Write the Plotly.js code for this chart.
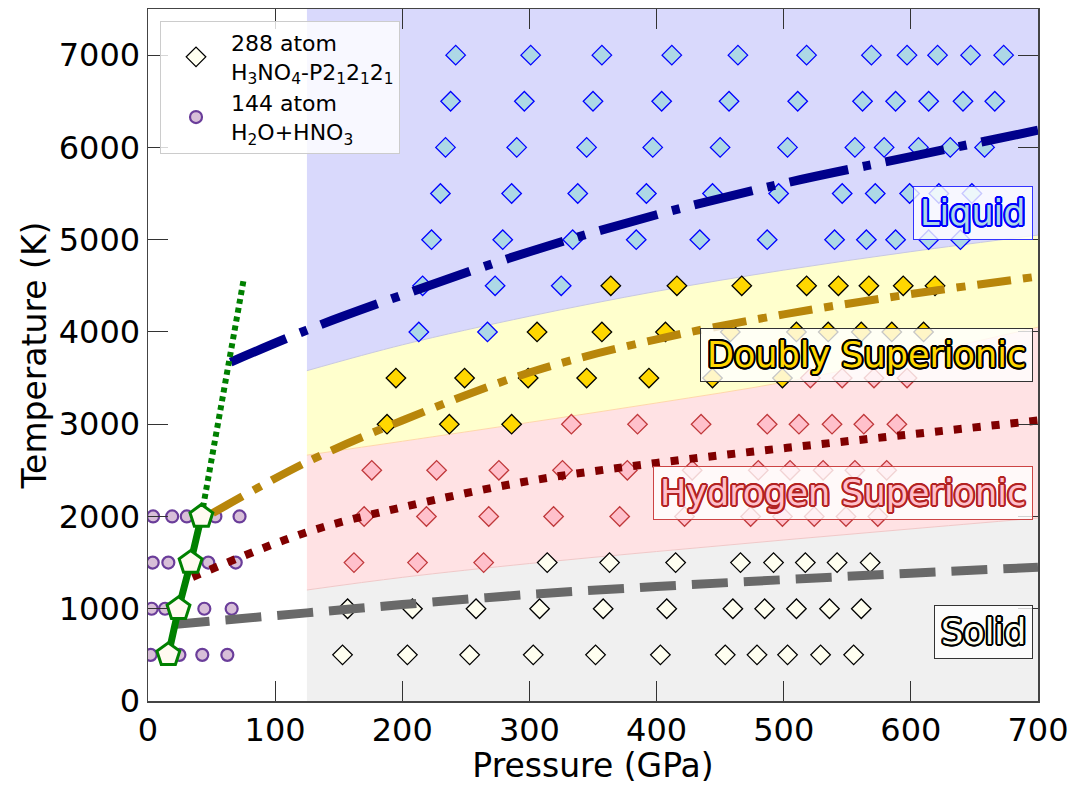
<!DOCTYPE html>
<html>
<head>
<meta charset="utf-8">
<script src="https://cdn.plot.ly/plotly-3.0.1.min.js"></script>
<style>html,body{margin:0;padding:0;background:#fff;}</style>
</head>
<body>
<div id="chart" style="width:1074px;height:785px;"></div>
<script>
// ---------- data ----------
// Phase-region boundaries (pressure GPa -> temperature K)
const boundaryP = [125, 200, 300, 400, 500, 600, 700];
const solidTop  = [1203, 1340, 1490, 1620, 1745, 1865, 1983];
const hsTop     = [2665, 2815, 3020, 3230, 3455, 3740, 4052];
const dsTop     = [3580, 3860, 4170, 4440, 4670, 4870, 5050];
const regionBase = [0, 0, 0, 0, 0, 0, 0];
const regionCeil = [7500, 7500, 7500, 7500, 7500, 7500, 7500];

// 288 atom H3NO4-P212121 simulations, by phase
const solidP = [153,204,253,303,352,403,454,479,503,529,555,
                157,208,258,308,358,408,460,485,510,536,561,
                314,363,415,466,492,517,542,568];
const solidT = [500,500,500,500,500,500,500,500,500,500,500,
                1000,1000,1000,1000,1000,1000,1000,1000,1000,1000,1000,
                1500,1500,1500,1500,1500,1500,1500,1500];

const hsP = [162,212,264,
             170,219,268,319,371,422,474,499,524,549,574,
             176,227,276,326,377,428,480,505,531,556,581,
             333,385,435,487,512,538,563,589,
             521,546,571,597];
const hsT = [1500,1500,1500,
             2000,2000,2000,2000,2000,2000,2000,2000,2000,2000,2000,
             2500,2500,2500,2500,2500,2500,2500,2500,2500,2500,2500,
             3000,3000,3000,3000,3000,3000,3000,3000,
             3500,3500,3500,3500];

const dsP = [188,237,286,
             195,249,299,345,394,444,499,
             306,357,407,458,510,535,561,585,610,
             364,416,467,518,543,567,594,619];
const dsT = [3000,3000,3000,
             3500,3500,3500,3500,3500,3500,3500,
             4000,4000,4000,4000,4000,4000,4000,4000,4000,
             4500,4500,4500,4500,4500,4500,4500,4500];

const liqP = [213,267,
              216,273,325,
              223,279,334,384,434,487,540,565,588,614,639,
              230,286,338,392,444,496,546,572,599,622,648,
              234,290,345,397,450,503,556,579,606,631,658,
              238,296,350,404,457,511,562,588,614,641,666,
              242,301,357,412,464,518,569,597,621,647,673];
const liqT = [4000,4000,
              4500,4500,4500,
              5000,5000,5000,5000,5000,5000,5000,5000,5000,5000,5000,
              5500,5500,5500,5500,5500,5500,5500,5500,5500,5500,5500,
              6000,6000,6000,6000,6000,6000,6000,6000,6000,6000,6000,
              6500,6500,6500,6500,6500,6500,6500,6500,6500,6500,6500,
              7000,7000,7000,7000,7000,7000,7000,7000,7000,7000,7000];

// 144 atom H2O+HNO3 simulations
const mixP = [4,19,30.5,53,72,
              3.7,16,47.4,69,
              2.9,13.4,44.3,65.8,
              2.1,24.7,42.7,62.4];
const mixT = [2000,2000,2000,2000,2000,
              1500,1500,1500,1500,
              1000,1000,1000,1000,
              500,500,500,500];

// Phase lines
const liquidLineP = [65, 125, 200, 300, 400, 500, 600, 700];
const liquidLineT = [3673, 4020, 4400, 4870, 5270, 5610, 5900, 6186];
const dsLineP = [51, 125, 200, 300, 400, 500, 600, 700];
const dsLineT = [2037, 2590, 3040, 3560, 3920, 4190, 4410, 4600];
const hsLineP = [35, 125, 200, 300, 400, 500, 600, 700];
const hsLineT = [1343, 1830, 2100, 2385, 2580, 2740, 2890, 3040];
const solidLineP = [20, 125, 200, 300, 400, 500, 600, 700];
const solidLineT = [830, 955, 1045, 1155, 1240, 1315, 1385, 1450];

// Low-pressure melting curve (pentagons) and its extrapolation
const meltP = [16, 24, 33.5, 42];
const meltT = [500, 1000, 1500, 2000];
const meltExtP = [42, 75];
const meltExtT = [2000, 4550];

// Phase labels
const labelText = ['Liquid', 'Doubly Superionic', 'Hydrogen Superionic', 'Solid'];
const labelT = [5290, 3750, 2255, 750];

// ---------- styling helpers ----------
function outline(c, w) {
  const o = [];
  const steps = 16;
  for (let i = 0; i < steps; i++) {
    const a = 2 * Math.PI * i / steps;
    o.push((w * Math.cos(a)).toFixed(2) + 'px ' + (w * Math.sin(a)).toFixed(2) + 'px 0 ' + c);
  }
  return o.join(', ');
}
const FONT = 'DejaVu Sans, sans-serif';

const traces = [];
function band(y, fillcolor, linecolor, first) {
  traces.push({
    x: boundaryP, y: y, type: 'scatter', mode: 'lines',
    line: {color: linecolor, width: first ? 0 : 1, shape: 'spline'},
    fill: first ? 'none' : 'tonexty', fillcolor: fillcolor,
    hoverinfo: 'skip', showlegend: false
  });
}
band(regionBase, 'rgba(0,0,0,0)', 'rgba(0,0,0,0)', true);
band(solidTop, 'rgb(240,240,240)', 'rgb(240,200,200)', false);
band(hsTop, 'rgb(255,226,228)', 'rgb(255,215,170)', false);
band(dsTop, 'rgb(255,255,205)', 'rgb(200,200,225)', false);
band(regionCeil, 'rgb(217,217,252)', 'rgba(0,0,0,0)', false);

// diamonds
function diamonds(x, y, fill, edge, name, show) {
  traces.push({
    x: x, y: y, type: 'scatter', mode: 'markers', name: name, showlegend: show,
    marker: {symbol: 'diamond', size: 15, color: fill, line: {color: edge, width: 1.3}},
    hoverinfo: 'skip'
  });
}
diamonds(solidP, solidT, '#fffff0', '#000000', '288 atom<br>H<sub>3</sub>NO<sub>4</sub>-P2<sub>1</sub>2<sub>1</sub>2<sub>1</sub>', true);

// 144-atom circles
traces.push({
  x: mixP, y: mixT, type: 'scatter', mode: 'markers',
  name: '144 atom<br>H<sub>2</sub>O+HNO<sub>3</sub>',
  marker: {symbol: 'circle', size: 12, color: '#d8bfd8', line: {color: '#6a3d9a', width: 2.2}},
  hoverinfo: 'skip'
});

diamonds(hsP, hsT, '#ffc0cb', '#c0393b', 'hs', false);
diamonds(dsP, dsT, '#ffd700', '#000000', 'ds', false);
diamonds(liqP, liqT, '#add8e6', '#0000ff', 'liq', false);

// phase lines
function pline(x, y, color, dash, width) {
  traces.push({
    x: x, y: y, type: 'scatter', mode: 'lines', showlegend: false, hoverinfo: 'skip',
    line: {color: color, width: width, dash: dash, shape: 'spline'}
  });
}
pline(solidLineP, solidLineT, '#696969', '36px,16px', 9);
pline(hsLineP, hsLineT, '#800000', '8px,11px', 8);
pline(dsLineP, dsLineT, '#b8860b', '34px,12px,9px,12px', 8);
pline(liquidLineP, liquidLineT, '#00008b', '60px,15px,8px,15px', 9);

// green melting curve
traces.push({
  x: meltExtP, y: meltExtT, type: 'scatter', mode: 'lines', showlegend: false, hoverinfo: 'skip',
  line: {color: '#008000', width: 6, dash: '5px,4px'}
});
traces.push({
  x: meltP, y: meltT, type: 'scatter', mode: 'lines+markers', showlegend: false, hoverinfo: 'skip',
  line: {color: '#008000', width: 7},
  marker: {symbol: 'pentagon', size: 24, color: '#fffaf0', line: {color: '#008000', width: 3}}
});

const labelStyle = [
  {fill: '#add8e6', edge: '#0000ff', border: '#3333ff'},
  {fill: '#ffd700', edge: '#000000', border: '#333333'},
  {fill: '#ffc0cb', edge: '#b22222', border: '#cc4444'},
  {fill: '#fffff0', edge: '#000000', border: '#333333'}
];
const annotations = labelText.map((t, i) => ({
  text: t, xref: 'paper', yref: 'y', x: 0.994, y: labelT[i],
  xanchor: 'right', yanchor: 'middle', showarrow: false,
  font: {family: FONT, size: 35, color: labelStyle[i].fill, shadow: outline(labelStyle[i].edge, 2)},
  bgcolor: 'rgba(255,255,255,0.78)', bordercolor: labelStyle[i].border, borderwidth: 1, borderpad: 6
}));

const axisCommon = {
  showgrid: false, zeroline: false, showline: true, linecolor: '#444', linewidth: 1.5,
  mirror: 'ticks', ticks: 'inside', ticklen: 20, tickwidth: 1, tickcolor: '#333',
  tickfont: {family: FONT, size: 32, color: '#000'}
};

const layout = {
  width: 1074, height: 785,
  margin: {l: 148, r: 36, t: 9, b: 84},
  paper_bgcolor: '#fff', plot_bgcolor: '#fff',
  font: {family: FONT, color: '#000'},
  xaxis: Object.assign({}, axisCommon, {
    range: [0, 700], dtick: 100, tick0: 0,
    title: {text: 'Pressure (GPa)', font: {family: FONT, size: 33}, standoff: 8}
  }),
  yaxis: Object.assign({}, axisCommon, {
    range: [0, 7500], dtick: 1000, tick0: 0,
    title: {text: 'Temperature (K)', font: {family: FONT, size: 33}, standoff: 2}
  }),
  legend: {
    x: 0.0135, y: 0.983, xanchor: 'left', yanchor: 'top',
    bgcolor: 'rgba(255,255,255,0.8)', bordercolor: '#cccccc', borderwidth: 1,
    font: {family: FONT, size: 22, color: '#000'}, tracegroupgap: 0, itemwidth: 60,
    traceorder: 'normal'
  },
  annotations: annotations,
  showlegend: true
};

Plotly.newPlot('chart', traces, layout, {displayModeBar: false, staticPlot: true});
</script>
</body>
</html>
